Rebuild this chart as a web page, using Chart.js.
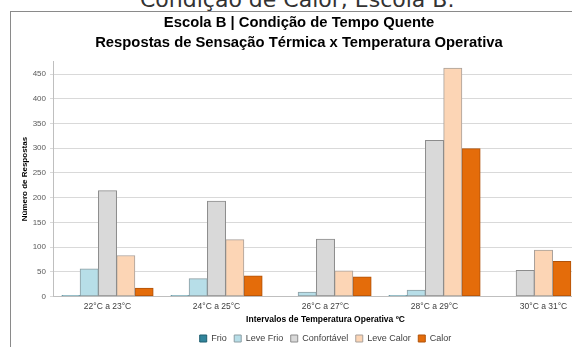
<!DOCTYPE html>
<html>
<head>
<meta charset="utf-8">
<script src="https://cdn.jsdelivr.net/npm/chart.js@4/dist/chart.umd.min.js"></script>
<style>
  html, body { margin: 0; padding: 0; background: #fff; width: 572px; height: 347px; overflow: hidden; position: relative; }
  #doc { position: absolute; left: 140px; top: -10.6px; font-family: "DejaVu Sans", sans-serif; font-size: 22px; color: #333; white-space: nowrap; line-height: 22px; }
  #frame { position: absolute; left: 10px; top: 11px; width: 700px; height: 400px; border-left: 1px solid #8a8a8a; border-top: 1px solid #8a8a8a; }
  #c { position: absolute; left: 0; top: 0; }
</style>
</head>
<body>
<div id="doc">Condição de Calor, Escola B.</div>
<div id="frame"></div>
<canvas id="c" width="600" height="353"></canvas>
<script>
const categories = ['22°C a 23°C', '24°C a 25°C', '26°C a 27°C', '28°C a 29°C', '30°C a 31°C'];
const seriesNames = ['Frio', 'Leve Frio', 'Confortável', 'Leve Calor', 'Calor'];
const frio = [2, 2, 0, 2, null];
const leveFrio = [56, 36, 9, 13, null];
const confortavel = [214, 193, 116, 316, 53];
const leveCalor = [83, 115, 52, 462, 94];
const calor = [17, 42, 40, 299, 71];
const titleLines = ['Escola B | Condição de Tempo Quente', 'Respostas de Sensação Térmica x Temperatura Operativa'];
const xTitle = 'Intervalos de Temperatura Operativa ºC';
const yTitle = 'Número de Respostas';

const fills = ['#31849b', '#b7dee8', '#d9d9d9', '#fcd5b5', '#e46c0a'];
const borders = ['#1f5f70', '#8c9ea3', '#8c8c8c', '#a8a09a', '#b0520a'];
const values = [frio, leveFrio, confortavel, leveCalor, calor];

const datasets = seriesNames.map((n, i) => ({
  label: n,
  data: values[i],
  backgroundColor: fills[i],
  borderColor: borders[i],
  borderWidth: 1,
  borderSkipped: false,
  barThickness: 18.3,
  skipNull: true
}));

new Chart(document.getElementById('c'), {
  type: 'bar',
  data: { labels: categories, datasets },
  options: {
    responsive: false,
    animation: false,
    layout: { padding: { left: 0, right: 2, top: 0, bottom: 0 } },
    plugins: {
      title: {
        display: true,
        text: titleLines,
        color: '#000',
        font: { family: 'Liberation Sans, Arial, sans-serif', size: 14.8, weight: 'bold', lineHeight: 1.35 },
        padding: { top: 13, bottom: 8.7 }
      },
      legend: {
        position: 'bottom',
        fullSize: false,
        labels: {
          boxWidth: 7, boxHeight: 7, padding: 7.5,
          color: '#404040',
          font: { family: 'Liberation Sans, Arial, sans-serif', size: 9 }
        }
      },
      tooltip: { enabled: false }
    },
    scales: {
      x: {
        grid: { display: false, drawTicks: false },
        border: { display: true, color: '#bfbfbf', width: 1 },
        ticks: { color: '#404040', padding: 5, maxRotation: 0, font: { family: 'Liberation Sans, Arial, sans-serif', size: 8.5 } },
        title: { display: true, text: xTitle, color: '#000', padding: { top: 2, bottom: 2 }, font: { family: 'Liberation Sans, Arial, sans-serif', size: 8.5, weight: 'bold' } },
        afterFit: (s) => { s.height = 30; }
      },
      y: {
        min: 0, max: 475,
        grid: { color: '#d9d9d9', drawTicks: true, tickLength: 3 },
        border: { display: true, color: '#bfbfbf', width: 1 },
        ticks: { stepSize: 50, includeBounds: false, color: '#595959', padding: 4, font: { family: 'Liberation Sans, Arial, sans-serif', size: 8 } },
        title: { display: true, text: yTitle, color: '#000', padding: { top: 20, bottom: 0 }, font: { family: 'Liberation Sans, Arial, sans-serif', size: 8, weight: 'bold' } },
        afterFit: (s) => { s.width = 53; }
      }
    }
  }
});
</script>
</body>
</html>
